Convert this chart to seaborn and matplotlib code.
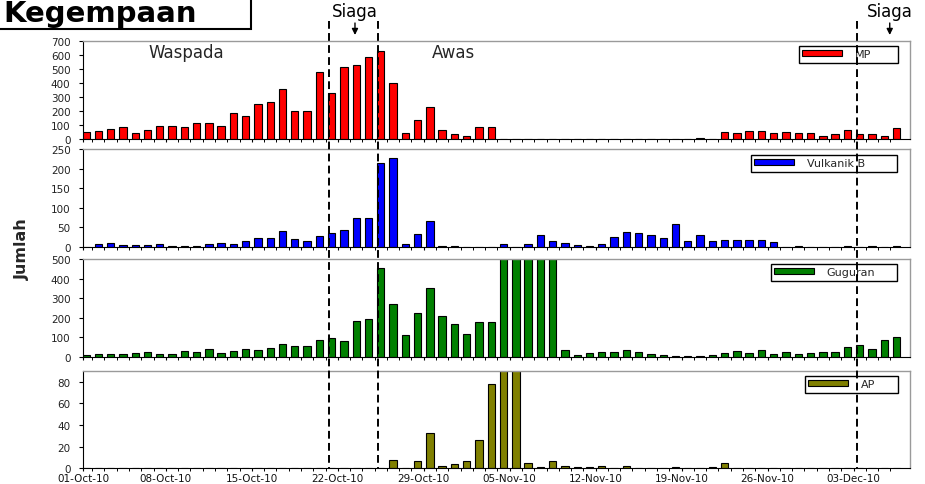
import numpy as np
import pandas as pd
import matplotlib
matplotlib.use("Agg")
import matplotlib.pyplot as plt
import matplotlib.transforms as mtransforms
from matplotlib.lines import Line2D
from matplotlib.patches import Rectangle, Patch
import seaborn as sns

# ---------------- data (daily counts, 01-Oct-10 .. 06-Dec-10) ----------------
days = list(range(67))

mp = [48, 53, 67, 82, 36, 62, 91, 91, 79, 110,
      108, 89, 182, 165, 247, 261, 357, 201, 201, 480,
      324, 513, 525, 588, 626, 400, 36, 132, 223, 58,
      34, 19, 84, 84, 0, 0, 0, 0, 0, 0,
      0, 0, 0, 0, 0, 0, 0, 0, 0, 0,
      2, 0, 48, 43, 53, 55, 36, 50, 38, 43,
      17, 29, 58, 29, 31, 19, 72]

vulkanik_b = [0, 6, 10, 5, 5, 5, 8, 3, 2, 3,
              7, 10, 7, 15, 23, 22, 41, 19, 14, 27,
              34, 44, 73, 73, 213, 226, 6, 33, 66, 3,
              1, 0, 0, 0, 6, 0, 6, 31, 14, 9,
              5, 2, 6, 26, 38, 34, 31, 22, 57, 14,
              29, 14, 18, 18, 18, 16, 11, 0, 3, 0,
              0, 0, 1, 0, 1, 0, 1]

guguran = [10, 14, 14, 12, 20, 25, 15, 15, 30, 22,
           41, 19, 27, 37, 34, 42, 63, 54, 56, 88,
           95, 80, 185, 195, 454, 271, 110, 224, 353, 206,
           167, 118, 178, 178, 560, 560, 560, 560, 560, 35,
           8, 17, 24, 24, 36, 24, 15, 8, 5, 5,
           5, 7, 19, 27, 19, 36, 14, 26, 12, 19,
           22, 24, 50, 61, 38, 84, 102]

ap = [0, 0, 0, 0, 0, 0, 0, 0, 0, 0,
      0, 0, 0, 0, 0, 0, 0, 0, 0, 0,
      0, 0, 0, 0, 0, 8, 0, 7, 33, 2,
      4, 7, 26, 78, 110, 110, 5, 1, 7, 2,
      1, 1, 2, 0, 2, 0, 0, 0, 1, 0,
      0, 1, 5, 0, 0, 0, 0, 0, 0, 0,
      0, 0, 0, 0, 0, 0, 0]

series_names = ["MP", "Vulkanik B", "Guguran", "AP"]
series_values = [mp, vulkanik_b, guguran, ap]
series_colors = ["#FF0000", "#0000FF", "#008000", "#808000"]
y_max = [700, 250, 500, 90]
y_step = [100, 50, 100, 20]

week_labels = ["01-Oct-10", "08-Oct-10", "15-Oct-10", "22-Oct-10", "29-Oct-10",
               "05-Nov-10", "12-Nov-10", "19-Nov-10", "26-Nov-10", "03-Dec-10"]
week_days = [0, 7, 14, 21, 28, 35, 42, 49, 56, 63]

status_days = [20, 24, 63]          # 21-Oct Siaga, 25-Oct Awas, 03-Dec Siaga
siaga_arrow_days = [21.9, 65.45]

# ---------------- layout ----------------
W, H = 925, 485
sns.set_theme(style="ticks")
plt.rcParams["font.family"] = ["DejaVu Sans"]

fig = plt.figure(figsize=(W / 100, H / 100), dpi=100)
fig.patch.set_facecolor("white")

left_px, right_px = 83, 910
panels_px = [(42, 139.5), (150, 247.7), (260, 357.7), (371.7, 469.3)]
# legend boxes: (left, top, right, bottom) in pixels
legend_box_px = [(799, 47, 898, 63), (751, 156, 897, 172),
                 (771, 265, 897, 281), (805, 377, 898, 393)]

XMIN, XMAX = -0.25, 67.1
axes = []
for k, (top, bot) in enumerate(panels_px):
    ax = fig.add_axes([left_px / W, 1 - bot / H, (right_px - left_px) / W, (bot - top) / H])
    df = pd.DataFrame({"day": days, "count": series_values[k]})
    sns.barplot(data=df, x="day", y="count", color=series_colors[k], saturation=1,
                width=0.6, edgecolor="black", linewidth=0.8, ax=ax)
    ax.set_xlim(XMIN, XMAX)
    ax.set_ylim(0, y_max[k])
    ax.set_yticks(list(range(0, y_max[k] + 1, y_step[k])))
    ax.set_xlabel("")
    ax.set_ylabel("")
    major = [max(d - 0.5, XMIN) for d in week_days]
    minor = [d - 0.5 for d in range(1, 67)]
    if k == 3:
        ax.set_xticks(major, week_labels)
    else:
        ax.set_xticks(major, [""] * len(major))
    ax.set_xticks(minor, minor=True)
    ax.tick_params(axis="x", which="major", length=2.5, width=0.8, color="black",
                   labelsize=7.5, pad=0.8, labelcolor="#111111")
    ax.tick_params(axis="x", which="minor", length=2, width=0.7, color="black")
    ax.tick_params(axis="y", which="major", length=3, width=0.8, color="black",
                   labelsize=7.5, pad=6, labelcolor="#222222")
    for s in ["top", "right"]:
        ax.spines[s].set_color("#9a9a9a")
        ax.spines[s].set_linewidth(1.0)
    for s in ["left", "bottom"]:
        ax.spines[s].set_color("black")
        ax.spines[s].set_linewidth(0.8)
    ax.grid(False)
    ax.set_facecolor("white")
    l, t, r, b = legend_box_px[k]
    handle = Patch(facecolor=series_colors[k], edgecolor="black", linewidth=0.8,
                   label=series_names[k])
    leg = ax.legend(handles=[handle], loc="upper left", mode="expand",
                    bbox_to_anchor=(l / W, 1 - b / H, (r - l) / W, (b - t) / H),
                    bbox_transform=fig.transFigure,
                    borderaxespad=0, fontsize=8, handlelength=3.6, handleheight=0.45,
                    handletextpad=1.1, borderpad=0.3, fancybox=False, framealpha=1,
                    edgecolor="black")
    leg.get_frame().set_linewidth(1.0)
    axes.append(ax)

ax0 = axes[0]
blend = mtransforms.blended_transform_factory(ax0.transData, fig.transFigure)

# status change dashed lines (drawn over all panels)
for d in status_days:
    u = d - 0.25
    fig.add_artist(Line2D([u, u], [1 - 22 / H, 1 - 470 / H], transform=blend,
                          color="black", lw=1.4, linestyle=(0, (4, 2.2)), zorder=20))

# Siaga labels with arrows
for u in siaga_arrow_days:
    fig.text(u, 1 - 12 / H, "Siaga", transform=blend, ha="center", va="center",
             fontsize=12, color="black")
    ax0.annotate("", xy=(u, 1 - 36 / H), xytext=(u, 1 - 24 / H),
                 xycoords=blend, textcoords=blend, annotation_clip=False,
                 arrowprops=dict(arrowstyle="-|>", color="black", lw=1.0,
                                 mutation_scale=9, shrinkA=0, shrinkB=0))

# status texts in MP panel
tb = mtransforms.blended_transform_factory(ax0.transData, ax0.transAxes)
ax0.text(8.2, 0.89, "Waspada", transform=tb, ha="center", va="center", fontsize=12)
ax0.text(29.95, 0.89, "Awas", transform=tb, ha="center", va="center", fontsize=12)

# y label
fig.text(22 / W, 1 - 249 / H, "Jumlah", rotation=90, ha="center", va="center",
         fontsize=11.5, fontweight="bold",
         family=["Liberation Sans Narrow", "DejaVu Sans"])

# title box
fig.text(3 / W, 1 - 22 / H, "Kegempaan", ha="left", va="baseline",
         fontsize=21, fontweight="bold", color="black")
fig.add_artist(Rectangle((-0.01, 1 - 30 / H), 0.01 + 250.5 / W, 0.2,
                         transform=fig.transFigure, fill=False,
                         edgecolor="black", linewidth=1.5, zorder=15))

fig.savefig("out.png", dpi=100, facecolor="white")
